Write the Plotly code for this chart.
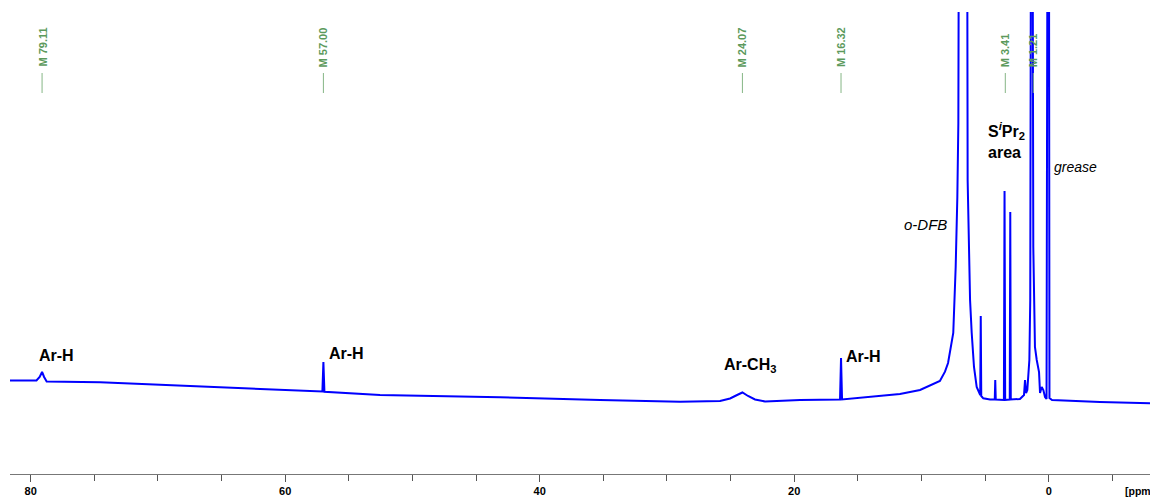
import plotly.graph_objects as go

# Spectrum trace: chemical shift (ppm) and intensity (arbitrary units)
ppm = [81.63, 80.06, 79.55, 79.30, 79.11, 78.95, 78.75, 74.55, 66.69, 58.83,
       57.08, 57.00, 56.92, 52.55, 43.12, 35.26, 28.97, 25.83, 25.04, 24.49,
       24.07, 23.63, 23.08, 22.29, 19.54, 16.40, 16.32, 16.24, 14.04, 11.69,
       10.11, 8.94, 8.55, 8.15, 7.91, 7.50, 7.31, 7.18, 7.10, 7.07,
       7.00, 6.60, 6.40, 6.37, 6.29, 6.24, 6.18, 6.05, 5.87, 5.66,
       5.44, 5.38, 5.34, 5.30, 5.14, 4.61, 4.24, 4.20, 4.16, 3.83,
       3.52, 3.47, 3.42, 3.06, 3.02, 2.98, 2.26, 1.94, 1.86, 1.78,
       1.68, 1.52, 1.45, 1.39, 1.33, 1.27, 1.21, 1.16, 1.08, 0.94,
       0.84, 0.76, 0.68, 0.55, 0.42, 0.29, 0.17, 0.09, 0.03, -0.02,
       -0.06, -0.26, -4.03, -8.59]
intensity = [93.5, 93, 93.5, 97, 102, 97, 92.5, 91.7, 87.3, 83,
             82.5, 112, 82.2, 79, 76.7, 74, 72.3, 73, 75.5, 79,
             81.5, 78, 74.5, 72.5, 74, 74.5, 116, 74.5, 77.3, 80,
             84, 91, 93, 102.3, 111, 141, 207, 277, 351, 520,
             700, 700, 520, 294, 241, 207, 174, 141, 107, 87,
             80, 79, 158, 78, 75.7, 74.5, 74.5, 94, 74.5, 74.5,
             74, 283, 74, 74.5, 262, 74.5, 75, 79, 94, 81,
             84, 114, 174, 600, 600, 600, 227, 174, 127, 114,
             106, 102, 81, 87, 84, 77, 75, 600, 600, 600,
             76, 74, 72, 70.5]

# Peak picking marks
mark_ppm = [79.11, 57.00, 24.07, 16.32, 3.41, 1.21]
mark_text = ["M 79.11", "M 57.00", "M 24.07", "M 16.32", "M 3.41", "M 1.21"]

# Assignment labels
label_text = ["Ar-H", "Ar-H", "Ar-CH<sub>3</sub>", "Ar-H"]
label_ppm = [77.97, 55.22, 23.47, 14.54]
label_int = [119, 121, 109, 117.3]

FONT = "Arial, Liberation Sans, sans-serif"

fig = go.Figure()
fig.add_trace(go.Scatter(x=ppm, y=intensity, mode="lines",
                         line=dict(color="#0000ff", width=2),
                         hoverinfo="skip", showlegend=False))

green = "#5c9a5c"
shapes = []
annotations = []
for p, t in zip(mark_ppm, mark_text):
    shapes.append(dict(type="line", xref="x", yref="y", x0=p, x1=p, y0=381, y1=401,
                       line=dict(color="#86b686", width=1)))
    annotations.append(dict(x=p, y=405, xref="x", yref="y", text=t, textangle=-90,
                            showarrow=False, xanchor="center", yanchor="bottom",
                            font=dict(family=FONT, size=11, color=green, weight="bold")))

for t, p, v in zip(label_text, label_ppm, label_int):
    annotations.append(dict(x=p, y=v, xref="x", yref="y", text=t, showarrow=False,
                            xanchor="center", yanchor="middle",
                            font=dict(family=FONT, size=16, color="black", weight="bold")))

annotations.append(dict(x=9.72, y=250, xref="x", yref="y", text="<i>o-DFB</i>",
                        showarrow=False, xanchor="center", yanchor="middle",
                        font=dict(family=FONT, size=15, color="black")))
annotations.append(dict(x=4.90, y=334, xref="x", yref="y",
                        text="S<sup><i>i</i></sup>Pr<sub>2</sub><br>area",
                        showarrow=False, xanchor="left", yanchor="middle", align="left",
                        font=dict(family=FONT, size=16, color="black", weight="bold")))
annotations.append(dict(x=-0.26, y=307, xref="x", yref="y", text="<i>grease</i>",
                        showarrow=False, xanchor="left", yanchor="middle",
                        font=dict(family=FONT, size=14, color="black")))
annotations.append(dict(x=(1123 - 10) / 1148, y=-0.037, xref="paper", yref="paper",
                        text="[ppm]", showarrow=False, xanchor="left", yanchor="middle",
                        font=dict(family=FONT, size=10.5, color="black", weight="bold")))

# The page body has an 8px default margin, so the figure is 8px smaller each way
fig.update_layout(
    width=1150, height=489,
    margin=dict(l=2, r=0, t=4, b=23),
    paper_bgcolor="white", plot_bgcolor="white",
    shapes=shapes, annotations=annotations,
    xaxis=dict(range=[81.63, -8.59], tickmode="linear", tick0=0, dtick=20,
               ticks="outside", ticklen=7, tickcolor="#555555", tickwidth=1,
               minor=dict(tickmode="linear", tick0=0, dtick=5, ticks="outside",
                          ticklen=6, tickcolor="#555555", tickwidth=1, showgrid=False),
               showline=True, linecolor="#777777", linewidth=1,
               showgrid=False, zeroline=False,
               tickfont=dict(family=FONT, size=11, color="black", weight="bold")),
    yaxis=dict(range=[0, 462], visible=False, showgrid=False, zeroline=False),
)

fig.write_html("out.html")
